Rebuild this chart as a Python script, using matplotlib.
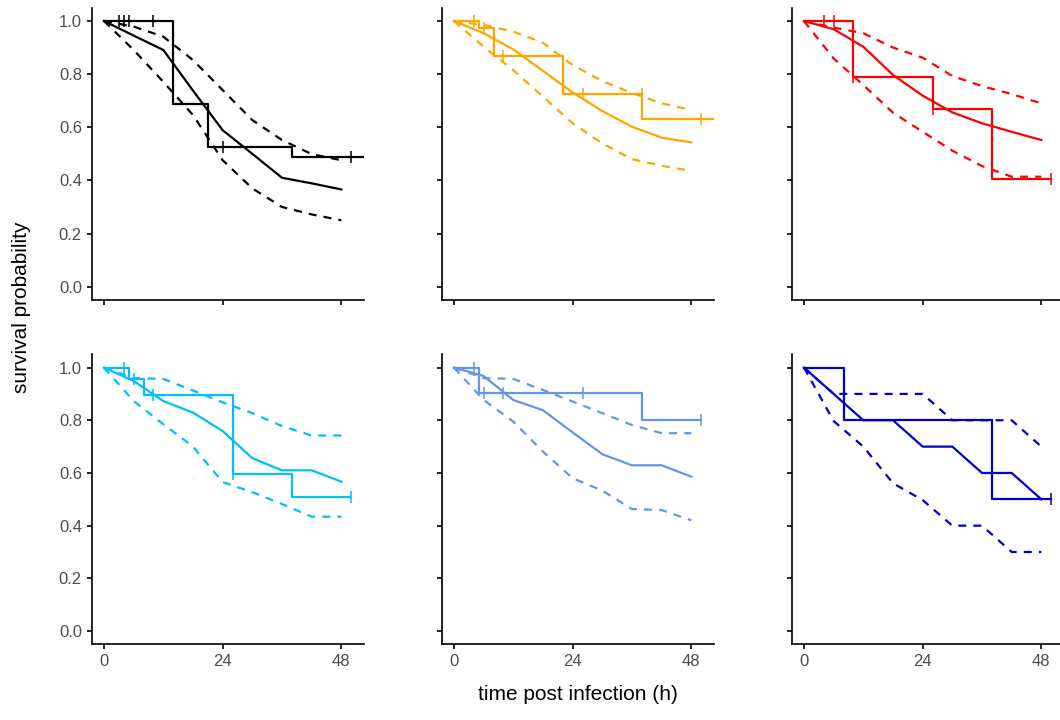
import numpy as np
import matplotlib
matplotlib.use('Agg')
import matplotlib.pyplot as plt

plt.rcParams['font.family'] = ['Liberation Sans', 'DejaVu Sans']

# panel colours, left to right, top to bottom
colors = ['#000000', '#FFA500', '#FF0000', '#00BFFF', '#6495ED', '#0000CD']

# model prediction grid (h)
t_model = [0, 6, 12, 18, 24, 30, 36, 42, 48]

model_mid = [
    [1.0, 0.945, 0.891, 0.738, 0.589, 0.50, 0.41, 0.389, 0.366],
    [1.0, 0.954, 0.893, 0.812, 0.731, 0.661, 0.602, 0.561, 0.543],
    [1.0, 0.969, 0.903, 0.797, 0.719, 0.656, 0.615, 0.583, 0.552],
    [1.0, 0.949, 0.873, 0.829, 0.759, 0.656, 0.61, 0.61, 0.567],
    [1.0, 0.968, 0.877, 0.838, 0.754, 0.671, 0.629, 0.629, 0.586],
    [1.0, 0.90, 0.80, 0.80, 0.70, 0.70, 0.60, 0.60, 0.50],
]
model_hi = [
    [1.0, 0.979, 0.941, 0.853, 0.74, 0.627, 0.552, 0.499, 0.476],
    [1.0, 0.985, 0.96, 0.918, 0.834, 0.774, 0.729, 0.69, 0.665],
    [1.0, 0.975, 0.954, 0.90, 0.862, 0.793, 0.755, 0.725, 0.69],
    [1.0, 0.96, 0.957, 0.913, 0.868, 0.827, 0.778, 0.742, 0.742],
    [1.0, 0.96, 0.957, 0.915, 0.871, 0.827, 0.782, 0.751, 0.751],
    [1.0, 0.90, 0.90, 0.90, 0.90, 0.80, 0.80, 0.80, 0.70],
]
model_lo = [
    [1.0, 0.891, 0.771, 0.646, 0.476, 0.37, 0.30, 0.272, 0.25],
    [1.0, 0.903, 0.815, 0.715, 0.615, 0.539, 0.48, 0.455, 0.436],
    [1.0, 0.859, 0.759, 0.655, 0.583, 0.512, 0.454, 0.414, 0.414],
    [1.0, 0.873, 0.785, 0.70, 0.565, 0.527, 0.482, 0.434, 0.434],
    [1.0, 0.877, 0.795, 0.681, 0.58, 0.533, 0.463, 0.459, 0.42],
    [1.0, 0.797, 0.70, 0.561, 0.497, 0.40, 0.40, 0.30, 0.30],
]

# Kaplan-Meier steps (time, survival)
km_t = [
    [0, 14, 21, 38, 52.5],
    [0, 5, 8, 22, 38, 52.5],
    [0, 10, 26, 38, 50],
    [0, 5, 8, 26, 38, 50],
    [0, 5, 38, 50],
    [0, 8, 38, 50],
]
km_s = [
    [1.0, 0.686, 0.527, 0.489, 0.489],
    [1.0, 0.972, 0.869, 0.724, 0.633, 0.633],
    [1.0, 0.79, 0.667, 0.404, 0.404],
    [1.0, 0.956, 0.894, 0.596, 0.508, 0.508],
    [1.0, 0.903, 0.801, 0.801],
    [1.0, 0.801, 0.501, 0.501],
]

# censoring marks
cens_t = [
    [3, 4, 5, 10, 24, 50],
    [4, 6, 10, 26, 38, 50],
    [4, 6, 10, 26, 50],
    [4, 6, 10, 26, 50],
    [4, 6, 10, 26, 50],
    [50],
]
cens_s = [
    [1.0, 1.0, 1.0, 1.0, 0.527, 0.489],
    [1.0, 0.972, 0.869, 0.724, 0.724, 0.633],
    [1.0, 1.0, 0.79, 0.667, 0.404],
    [1.0, 0.956, 0.894, 0.596, 0.508],
    [1.0, 0.903, 0.903, 0.903, 0.801],
    [0.501],
]

W, H = 1060, 720
fig = plt.figure(figsize=(W / 100, H / 100), dpi=100)

lefts = [91.6, 441.6, 791.6]
width = 272
rows = [(7.7, 300.0), (354.4, 644.2)]

for i in range(6):
    r, c = divmod(i, 3)
    top, bot = rows[r]
    ax = fig.add_axes([lefts[c] / W, (H - bot) / H, width / W, (bot - top) / H])
    col = colors[i]
    lw = 1.6
    ax.step(km_t[i], km_s[i], where='post', color=col, linewidth=lw)
    ax.plot(cens_t[i], cens_s[i], linestyle='none', marker='|', markersize=9,
            markeredgewidth=1.1, color=col)
    ax.plot(t_model, model_mid[i], color=col, linewidth=lw)
    ax.plot(t_model, model_hi[i], color=col, linewidth=lw, dashes=(3.6, 3.2))
    ax.plot(t_model, model_lo[i], color=col, linewidth=lw, dashes=(3.6, 3.2))

    ax.set_xlim(-2.5, 52.5)
    ax.set_ylim(-0.05, 1.05)
    ax.set_xticks([0, 24, 48])
    ax.set_yticks([0, 0.2, 0.4, 0.6, 0.8, 1.0])
    ax.spines['right'].set_visible(False)
    ax.spines['top'].set_visible(False)
    for key in ['left', 'bottom']:
        ax.spines[key].set_linewidth(1.2)
    ax.tick_params(length=3.5, width=1.2, color='black', labelcolor='#4D4D4D',
                   labelsize=12, pad=3.5)
    if c == 0:
        ax.set_yticklabels(['0.0', '0.2', '0.4', '0.6', '0.8', '1.0'])
    else:
        ax.set_yticklabels([])
    if r == 0:
        ax.set_xticklabels([])
    else:
        ax.set_xticklabels(['0', '24', '48'])

fig.text(22 / W, 1 - 307 / H, 'survival probability', rotation=90,
         ha='center', va='center', fontsize=15)
fig.text(578 / W, 1 - 695 / H, 'time post infection (h)',
         ha='center', va='center', fontsize=15)

fig.savefig('out.png', dpi=100)
